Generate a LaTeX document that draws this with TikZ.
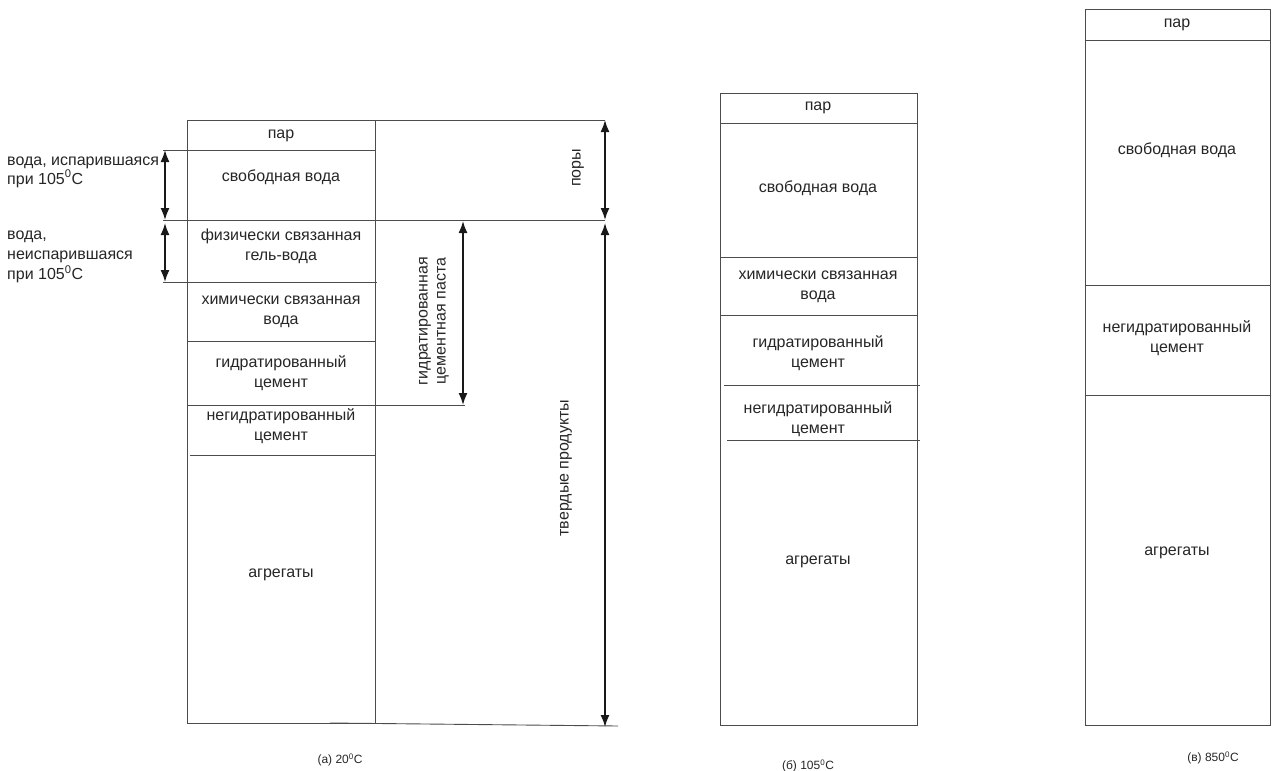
\documentclass[tikz,border=0pt]{standalone}
\usepackage{fontspec}
\setmainfont{Liberation Sans}
\usetikzlibrary{arrows.meta}

\tikzset{
  linha/.style={line width=0.9pt, draw=black!70},
  seta/.style={{Latex[length=12pt,width=9pt]}-{Latex[length=12pt,width=9pt]}, line width=1.6pt, black!90},
  rot/.style={font=\fontsize{16}{20}\selectfont, text=black!85, align=center, inner sep=1pt},
  legenda/.style={font=\fontsize{12}{15}\selectfont, text=black!85, inner sep=1pt},
}
\newcommand{\graus}[1]{#1\textsuperscript{0}C}

\begin{document}
\begin{tikzpicture}[x=1pt,y=-1pt]
    \useasboundingbox (0,0) rectangle (1280,771);

    % Coluna (a)
    \draw[linha] (187,120) rectangle (375,723);
    \draw[linha] (375,120) -- (605,120);
    \draw[linha] (163,150) -- (375,150);
    \draw[linha] (163,220) -- (605,220);
    \draw[linha] (163,282) -- (377,282);
    \draw[linha] (187,341) -- (375,341);
    \draw[linha] (187,405) -- (465,405);
    \draw[linha] (190,455) -- (375,455);
    \draw[linha] (330,723) -- (618,726);

    \node[rot] (parA) at (281,136) {пар};
    \node[rot] (svobA) at (281,177) {свободная вода};
    \node[rot] (fisA) at (281,246) {физически связанная\\гель-вода};
    \node[rot] (quimA) at (281,312) {химически связанная\\вода};
    \node[rot] (hidA) at (281,373) {гидратированный\\цемент};
    \node[rot] (nhidA) at (281,426) {негидратированный\\цемент};
    \node[rot] (agrA) at (281,575) {агрегаты};

    % Setas da esquerda
    \coordinate (e1) at (165,150);
    \coordinate (e2) at (165,220);
    \coordinate (e3) at (165,223);
    \coordinate (e4) at (165,282);
    \draw[seta] (e1) -- (e2);
    \draw[seta] (e3) -- (e4);
    \node[rot, anchor=west, align=left, font=\fontsize{16}{19}\selectfont] (evap) at (6,172) {вода, испарившаяся\\при \graus{105}};
    \node[rot, anchor=west, align=left] (nevap) at (6,257) {вода,\\неиспарившаяся\\при \graus{105}};

    % Pasta de cimento hidratada
    \coordinate (p1) at (463,221);
    \coordinate (p2) at (463,405);
    \draw[seta] (p1) -- (p2);
    \node[rot, rotate=90, font=\fontsize{16}{18}\selectfont] (pasta) at (434,321) {гидратированная\\цементная паста};

    % Poros e produtos solidos
    \coordinate (d1) at (605,120);
    \coordinate (d2) at (605,220);
    \coordinate (d3) at (605,223);
    \coordinate (d4) at (605,727);
    \draw[seta] (d1) -- (d2);
    \draw[seta] (d3) -- (d4);
    \node[rot, rotate=90] (poros) at (578,168) {поры};
    \node[rot, rotate=90] (solidos) at (566,468) {твердые продукты};

    % Coluna (b)
    \draw[linha] (720,93) rectangle (917,725);
    \draw[linha] (720,123) -- (917,123);
    \draw[linha] (720,257) -- (917,257);
    \draw[linha] (720,315) -- (917,315);
    \draw[linha] (724,385) -- (920,385);
    \draw[linha] (727,440) -- (920,440);

    \node[rot] (parB) at (818,108) {пар};
    \node[rot] (svobB) at (818,188) {свободная вода};
    \node[rot] (quimB) at (818,287) {химически связанная\\вода};
    \node[rot] (hidB) at (818,353) {гидратированный\\цемент};
    \node[rot] (nhidB) at (818,419) {негидратированный\\цемент};
    \node[rot] (agrB) at (818,562) {агрегаты};

    % Coluna (c)
    \draw[linha] (1085,9) rectangle (1270,725);
    \draw[linha] (1085,40) -- (1270,40);
    \draw[linha] (1085,285) -- (1270,285);
    \draw[linha] (1085,395) -- (1270,395);

    \node[rot] (parC) at (1177,25) {пар};
    \node[rot] (svobC) at (1177,150) {свободная вода};
    \node[rot] (nhidC) at (1177,338) {негидратированный\\цемент};
    \node[rot] (agrC) at (1177,553) {агрегаты};

    % Legendas
    \node[legenda] (legA) at (340,760) {(а) \graus{20}};
    \node[legenda] (legB) at (808,766) {(б) \graus{105}};
    \node[legenda] (legC) at (1213,758) {(в) \graus{850}};
\end{tikzpicture}
\end{document}
